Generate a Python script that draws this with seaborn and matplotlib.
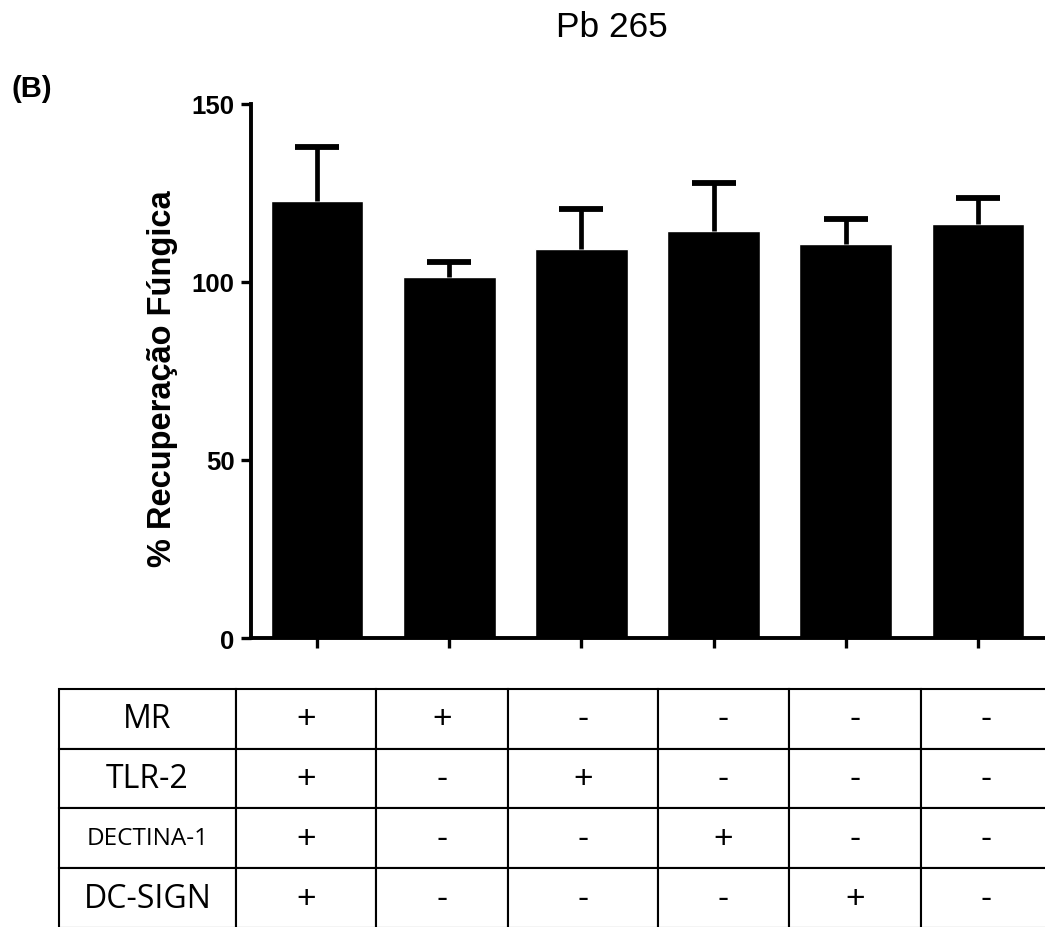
import matplotlib
matplotlib.use("Agg")
import matplotlib.pyplot as plt
import numpy as np
import pandas as pd
import seaborn as sns

# Data
groups = ["G1", "G2", "G3", "G4", "G5", "G6"]
recovery = [122.8, 101.3, 109.3, 114.4, 110.6, 116.4]
upper_err = [15.2, 4.4, 11.2, 13.5, 7.0, 7.2]

row_labels = ["MR", "TLR-2", "DECTINA-1", "DC-SIGN"]
signs = [
    ["+", "+", "-", "-", "-", "-"],
    ["+", "-", "+", "-", "-", "-"],
    ["+", "-", "-", "+", "-", "-"],
    ["+", "-", "-", "-", "+", "-"],
]

sns.set_style("ticks")
plt.rcParams["font.family"] = ["Liberation Sans", "DejaVu Sans"]
for key in ["text.color", "axes.labelcolor", "xtick.color", "ytick.color",
            "axes.edgecolor"]:
    plt.rcParams[key] = "black"

df = pd.DataFrame({"group": groups, "recovery": recovery})

fig = plt.figure(figsize=(10.45, 9.28), dpi=100)
ax = fig.add_axes([0.2402, 0.3114, 0.7588, 0.5755])

sns.barplot(data=df, x="group", y="recovery", color="black", saturation=1,
            width=0.7, errorbar=None, ax=ax)
_, caps, _ = ax.errorbar(np.arange(len(groups)), recovery,
                         yerr=[np.zeros(len(groups)), upper_err], fmt="none",
                         ecolor="black", elinewidth=3.4, capsize=16,
                         capthick=4.2)
caps[0].set_visible(False)  # only the upper cap

ax.set_xlim(-0.5, 5.5)
ax.set_ylim(0, 150)
ax.set_yticks([0, 50, 100, 150])
ax.set_xticklabels([])
ax.set_xlabel("")
ax.set_ylabel("% Recuperação Fúngica", fontsize=23.5, fontweight="bold")
ax.yaxis.set_label_coords(-0.092, 0.488)
sns.despine(ax=ax)
for side in ["left", "bottom"]:
    ax.spines[side].set_linewidth(2.8)
ax.tick_params(axis="both", direction="out", length=7, width=2.4,
               labelsize=18.5, pad=5)
for lab in ax.get_yticklabels():
    lab.set_fontweight("bold")

fig.text(0.5855, 0.9601, "Pb 265", fontsize=25.5, ha="center", va="baseline")
fig.text(0.011, 0.9046, "(B)", fontsize=21, fontweight="bold",
         ha="left", va="center")

# condition table under the bars
tab_ax = fig.add_axes([0.0565, -0.001, 0.949, 0.2575])
tab_ax.axis("off")
cell_text = [[lab] + row for lab, row in zip(row_labels, signs)]
col_w = [177, 140, 132, 150, 131, 132, 130]
col_w = [w / sum(col_w) for w in col_w]
table = tab_ax.table(cellText=cell_text, colWidths=col_w,
                     bbox=[0, 0, 1, 1], cellLoc="center")
table.auto_set_font_size(False)
for (r, c), cell in table.get_celld().items():
    cell.set_edgecolor("black")
    cell.set_linewidth(1.5)
    txt = cell.get_text()
    if c == 0:
        txt.set_fontfamily(["Open Sans", "DejaVu Sans"])
        txt.set_fontsize(17.5 if row_labels[r] == "DECTINA-1" else 23)
    else:
        txt.set_fontsize(24)

fig.savefig("out.png", dpi=100)
